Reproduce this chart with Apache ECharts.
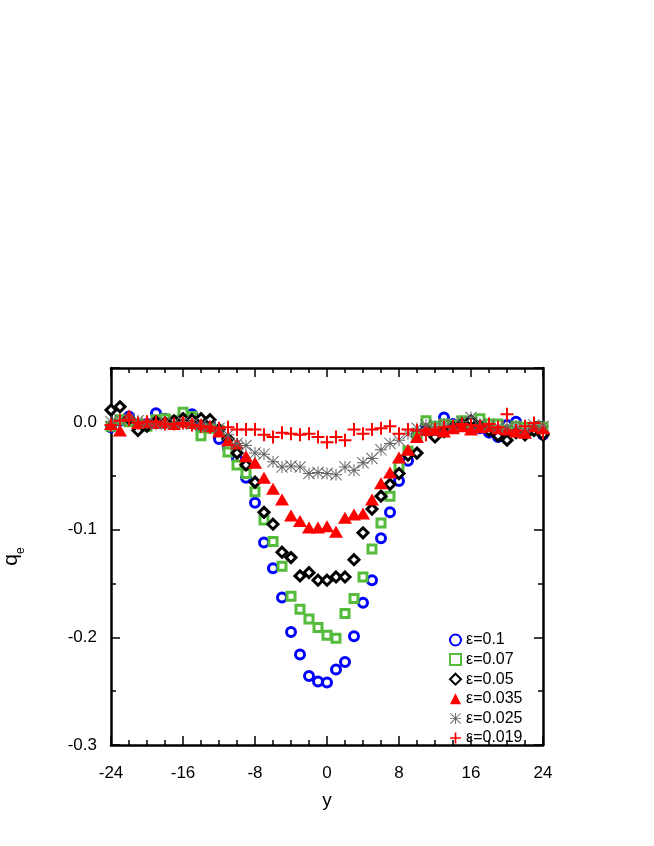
<!DOCTYPE html>
<html>
<head>
<meta charset="utf-8">
<script src="https://cdn.jsdelivr.net/npm/echarts@6/dist/echarts.min.js"></script>
<style>
  html, body { margin: 0; padding: 0; background: #fff; }
  #chart { width: 654px; height: 846px; }
</style>
</head>
<body>
<div id="chart"></div>
<script>
    'use strict';

    // positions along y, one point per unit
    var yPos = [];
    for (var k = -24; k <= 24; k++) { yPos.push(k); }

    var legendNames = ['ε=0.1', 'ε=0.07', 'ε=0.05', 'ε=0.035', 'ε=0.025', 'ε=0.019'];

    var q010 = [-0.005, 0.001, 0.005, -0.003, -0.002, 0.008, 0.003, 0.000, 0.004, 0.007,
        -0.004, -0.002, -0.016, -0.024, -0.034, -0.052, -0.075, -0.112, -0.136, -0.163,
        -0.195, -0.216, -0.236, -0.241, -0.242, -0.230, -0.223, -0.199, -0.168, -0.147,
        -0.108, -0.084, -0.055, -0.036, -0.012, -0.003, -0.008, 0.004, -0.002, 0.000,
        -0.005, -0.006, -0.010, -0.014, -0.003, 0.000, -0.006, -0.008, -0.012];

    var q007 = [-0.004, 0.002, 0.000, -0.002, -0.004, 0.002, 0.003, 0.001, 0.009, 0.005,
        -0.013, -0.006, -0.008, -0.028, -0.040, -0.048, -0.065, -0.091, -0.111, -0.134,
        -0.162, -0.174, -0.183, -0.191, -0.198, -0.201, -0.178, -0.164, -0.144, -0.118,
        -0.094, -0.069, -0.041, -0.027, -0.014, 0.001, -0.004, -0.002, -0.003, 0.001,
        -0.001, 0.003, -0.002, -0.002, -0.008, -0.004, -0.005, -0.008, -0.005];

    var q005 = [0.011, 0.014, 0.003, -0.008, -0.004, 0.000, -0.001, 0.001, 0.003, 0.002,
        0.003, 0.002, -0.007, -0.016, -0.029, -0.040, -0.056, -0.084, -0.095, -0.121,
        -0.126, -0.143, -0.140, -0.147, -0.147, -0.144, -0.144, -0.128, -0.103, -0.081,
        -0.069, -0.058, -0.048, -0.031, -0.029, -0.008, -0.014, -0.009, -0.005, -0.002,
        0.001, -0.004, -0.008, -0.013, -0.017, -0.010, -0.012, -0.008, -0.012];

    var q0035 = [-0.002, -0.008, 0.006, -0.001, 0.000, -0.001, 0.000, -0.002, 0.000, -0.001,
        -0.002, -0.004, -0.009, -0.017, -0.020, -0.032, -0.038, -0.052, -0.062, -0.072,
        -0.087, -0.092, -0.098, -0.098, -0.097, -0.102, -0.089, -0.086, -0.085, -0.072,
        -0.057, -0.047, -0.033, -0.026, -0.014, -0.006, -0.007, -0.009, -0.006, -0.004,
        -0.007, -0.005, -0.004, -0.006, -0.007, -0.009, -0.010, -0.004, -0.006];

    var q0025 = [0.000, 0.002, 0.003, 0.001, -0.001, -0.002, -0.001, -0.001, 0.000, -0.002,
        -0.003, -0.004, -0.006, -0.012, -0.020, -0.022, -0.029, -0.030, -0.037, -0.042,
        -0.041, -0.042, -0.048, -0.047, -0.048, -0.049, -0.042, -0.045, -0.038, -0.034,
        -0.026, -0.020, -0.017, -0.011, -0.006, -0.003, -0.004, -0.002, -0.003, 0.000,
        0.004, -0.002, -0.003, -0.005, -0.004, -0.004, -0.006, -0.003, -0.004];

    var q0019 = [-0.003, 0.001, 0.002, -0.001, 0.000, 0.000, -0.002, -0.002, -0.001, -0.003,
        -0.004, -0.005, -0.006, -0.005, -0.007, -0.007, -0.007, -0.012, -0.014, -0.010,
        -0.011, -0.012, -0.011, -0.014, -0.019, -0.014, -0.017, -0.007, -0.011, -0.007,
        -0.006, -0.004, -0.011, -0.007, -0.008, -0.012, -0.007, -0.005, -0.004, -0.002,
        -0.003, -0.004, -0.002, -0.005, 0.007, -0.008, -0.004, -0.001, -0.010];

    var plusPath = 'path://M5.5,0h2v5.5h5.5v2h-5.5v5.5h-2v-5.5h-5.5v-2h5.5z';
    var starPath = 'path://M5.5,0h1v12h-1z M0,5.5h12v1h-12z M0.7,0L12,11.3L11.3,12L0,0.7z M11.3,0L12,0.7L0.7,12L0,11.3z';

    function pairs(vals) {
        return yPos.map(function(x, i) { return [x, vals[i]]; });
    }

    var FONT = 'Liberation Sans, Arial, sans-serif';
    var labelFont = { fontFamily: FONT, fontSize: 17, color: '#000' };

    var chart = echarts.init(document.getElementById('chart'), null, { renderer: 'canvas' });

    var frameLine = { show: true, onZero: false, lineStyle: { color: '#000', width: 2.5 } };
    var tickIn = { show: true, inside: true, length: 9, lineStyle: { color: '#000', width: 1.5 } };
    var minorX = { show: true, splitNumber: 4, length: 5, lineStyle: { color: '#000', width: 1.5 } };
    var minorY = { show: true, splitNumber: 2, length: 5, lineStyle: { color: '#000', width: 1.5 } };

    var option = {
        backgroundColor: '#fff',
        animation: false,
        grid: { left: 111, right: 111, top: 368, bottom: 101, containLabel: false, outerBoundsMode: 'none' },
        legend: {
            orient: 'vertical',
            left: 444,
            top: 627,
            itemGap: 3.6,
            itemWidth: 11,
            itemHeight: 11,
            textStyle: { fontFamily: FONT, fontSize: 16, color: '#000' },
            data: legendNames
        },
        xAxis: [{
            type: 'value', min: -24, max: 24, interval: 8,
            name: 'y', nameLocation: 'middle', nameGap: 46,
            nameTextStyle: { fontFamily: FONT, fontSize: 19, color: '#000' },
            axisLine: frameLine, axisTick: tickIn, minorTick: minorX,
            axisLabel: Object.assign({ margin: 20 }, labelFont),
            splitLine: { show: false }
        }, {
            type: 'value', position: 'top', min: -24, max: 24, interval: 8,
            axisLine: frameLine, axisTick: tickIn, minorTick: minorX,
            axisLabel: { show: false }, splitLine: { show: false }
        }],
        yAxis: [{
            type: 'value', min: -0.3, max: 0.05, interval: 0.1,
            name: '{q|q}{e|e}', nameLocation: 'middle', nameGap: 89, nameRotate: 90,
            nameTextStyle: {
                rich: {
                    q: { fontFamily: FONT, fontSize: 21, color: '#000' },
                    e: { fontFamily: FONT, fontSize: 12, color: '#000', verticalAlign: 'bottom', padding: [0, 0, -5, 0] }
                }
            },
            axisLine: frameLine, axisTick: tickIn, minorTick: minorY,
            axisLabel: Object.assign({
                margin: 14, showMaxLabel: false,
                formatter: function(v) { return Math.abs(v - 0.05) < 1e-9 ? '' : v.toFixed(1); }
            }, labelFont),
            splitLine: { show: false }
        }, {
            type: 'value', position: 'right', min: -0.3, max: 0.05, interval: 0.1,
            axisLine: frameLine, axisTick: tickIn, minorTick: minorY,
            axisLabel: { show: false }, splitLine: { show: false }
        }],
        series: [{
            name: legendNames[0], type: 'scatter', data: pairs(q010),
            symbol: 'circle', symbolSize: 9,
            itemStyle: { color: 'rgba(255,255,255,0)', borderColor: '#0000ff', borderWidth: 3, opacity: 1 }
        }, {
            name: legendNames[1], type: 'scatter', data: pairs(q007),
            symbol: 'rect', symbolSize: 8,
            itemStyle: { color: '#fff', borderColor: '#55bb3a', borderWidth: 3, opacity: 1 }
        }, {
            name: legendNames[2], type: 'scatter', data: pairs(q005),
            symbol: 'diamond', symbolSize: 10,
            itemStyle: { color: '#fff', borderColor: '#000', borderWidth: 3, opacity: 1 }
        }, {
            name: legendNames[3], type: 'scatter', data: pairs(q0035),
            symbol: 'triangle', symbolSize: [14, 12],
            itemStyle: { color: '#ff0000', opacity: 1 }
        }, {
            name: legendNames[4], type: 'scatter', data: pairs(q0025),
            symbol: starPath, symbolSize: 12,
            itemStyle: { color: '#666', opacity: 1 }
        }, {
            name: legendNames[5], type: 'scatter', data: pairs(q0019),
            symbol: plusPath, symbolSize: 13,
            itemStyle: { color: '#ff0000', opacity: 1 }
        }]
    };

    chart.setOption(option);
</script>
</body>
</html>
